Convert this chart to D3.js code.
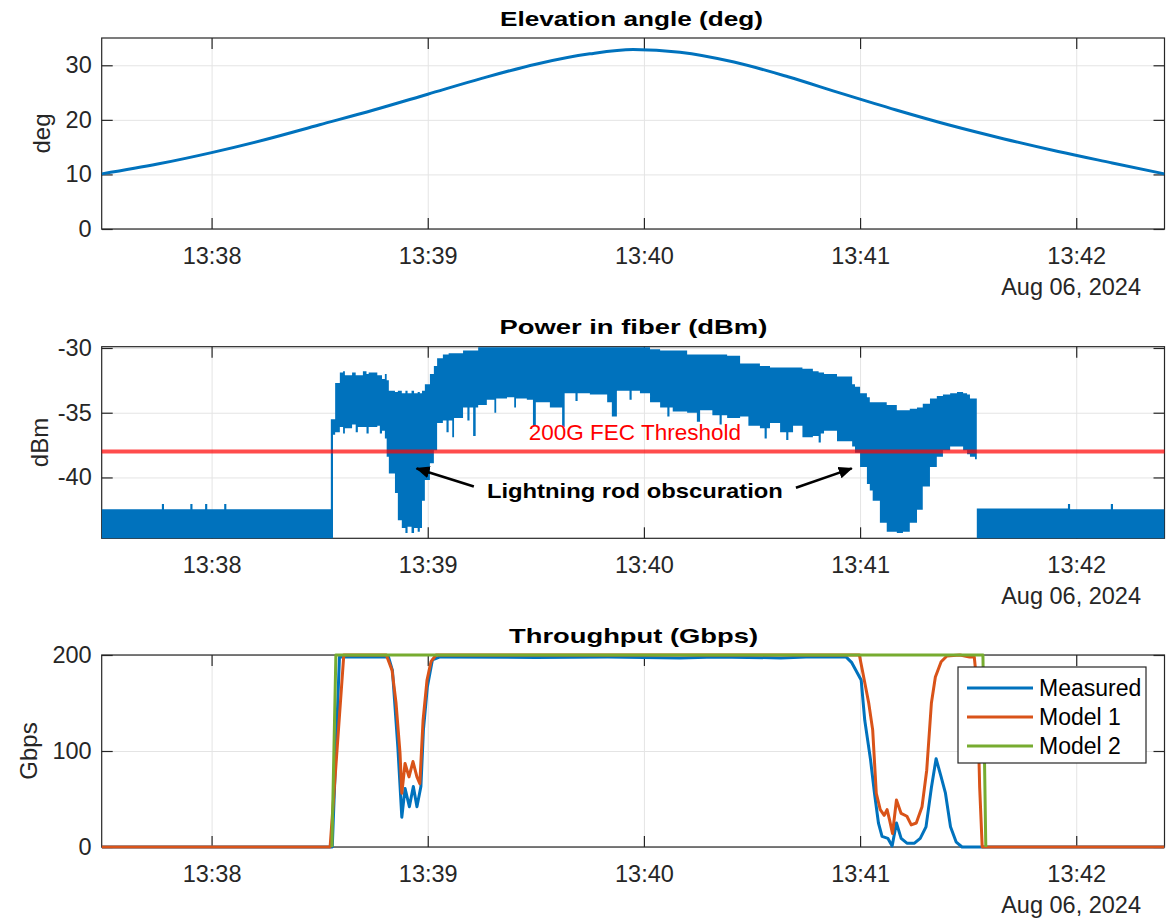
<!DOCTYPE html>
<html>
<head>
<meta charset="utf-8">
<script src="https://cdn.jsdelivr.net/npm/d3@7"></script>
<style>
  body { margin: 0; background: #fff; }
  svg { font-family: "Liberation Sans", Arial, Helvetica, sans-serif; }
</style>
</head>
<body>
<script>
// all times are seconds after 13:37:00 on Aug 06, 2024

//elevation angle (deg)
const elevT = [29.5, 45, 60, 75, 90, 105, 120, 135, 150, 165, 177, 190, 205, 220, 235, 250, 265, 280, 295, 310, 324.5]
const elevV = [10.1, 11.9, 14.0, 16.4, 19.1, 21.8, 24.7, 27.6, 30.2, 32.1, 32.9, 32.4, 30.6, 27.9, 24.8, 21.8, 19.0, 16.5, 14.2, 12.1, 10.1]

//power in fiber: upper and lower edge of the noisy trace (dBm)
const powerT = [29.5, 46.2, 46.8, 54.1, 54.7, 58.2, 58.8, 63.5, 64.1, 93.1,
  93.7, 94.3, 95.6, 96.5, 97, 99, 100, 100.6, 102, 103,
  103.6, 106, 106.7, 107.3, 108.1, 108.6, 109.2, 110.9, 111.7, 112.8,
  113.8, 114.4, 115.5, 116.2, 117.2, 117.8, 118.4, 119.2, 120.6, 121.7,
  122.6, 124.2, 125.2, 125.8, 126.8, 127.3, 129.8, 131, 131.6, 132.6,
  133.3, 134, 136.4, 138.5, 139, 142, 144, 144.5, 147.5, 149.2,
  150, 153.9, 157.3, 158, 161, 161.6, 165, 169.8, 171.1, 172.5,
  176, 176.6, 178.9, 181.7, 184.5, 186.5, 187.1, 188, 192, 194.7,
  195.6, 199, 201, 201.6, 203.1, 206.7, 209, 212.2, 213.5, 214.1,
  215, 217.8, 219.5, 220.1, 221.4, 224, 226.9, 228.5, 229.1, 230,
  233.6, 237.8, 238.6, 240, 241.9, 242.7, 243.5, 245.5, 247.4, 250.2,
  251.9, 253.8, 255.8, 257.4, 259.4, 261.3, 263, 265, 266.9, 268.6,
  269.7, 270.5, 271.9, 272.4, 297.7, 298.3, 309.6, 310.2, 324.5]
const powerHi = [-42.45, -42.05, -42.45, -42.05, -42.45, -42.05, -42.45, -42.05, -42.45, -35.5,
  -35.5, -32.7, -31.9, -31.8, -32.1, -31.9, -32.1, -32.1, -31.8, -32.0,
  -31.9, -32.1, -32.1, -32.4, -32.0, -32.5, -33.3, -33.4, -33.3, -33.5,
  -33.3, -33.5, -33.3, -33.5, -33.4, -33.5, -33.3, -32.8, -32.0, -31.4,
  -30.8, -30.5, -30.5, -30.4, -30.4, -30.4, -30.2, -30.2, -30.2, -30.2,
  -30.2, -29.95, -29.95, -29.95, -29.95, -29.95, -29.95, -29.95, -29.95, -29.95,
  -29.95, -29.95, -29.95, -29.95, -29.95, -29.95, -29.95, -29.95, -29.95, -29.95,
  -29.95, -29.95, -29.95, -30.1, -30.2, -30.2, -30.2, -30.2, -30.5, -30.5,
  -30.5, -30.5, -30.5, -30.5, -30.6, -31.2, -31.2, -31.4, -31.4, -31.4,
  -31.5, -31.5, -31.5, -31.5, -31.5, -31.6, -31.8, -31.9, -31.9, -32.0,
  -32.2, -32.8, -33.0, -33.5, -33.8, -34.2, -34.2, -34.2, -34.4, -34.8,
  -34.8, -34.7, -34.6, -34.3, -33.9, -33.7, -33.6, -33.5, -33.4, -33.5,
  -33.6, -33.9, -33.9, -42.4, -42.05, -42.45, -42.05, -42.45, -42.45]
const powerLo = [-44.8, -44.8, -44.8, -44.8, -44.8, -44.8, -44.8, -44.8, -44.8, -44.8,
  -36.7, -36.5, -36.1, -36.6, -36.2, -35.9, -36.5, -36.1, -36.1, -36.6,
  -36.1, -36.0, -36.6, -36.4, -37.0, -38.4, -39.7, -41.2, -43.3, -43.9,
  -44.3, -43.8, -44.3, -43.9, -44.2, -43.9, -41.8, -40.2, -38.9, -37.9,
  -35.8, -35.6, -36.5, -35.6, -36.9, -35.4, -34.6, -35.6, -34.6, -36.8,
  -34.6, -34.4, -34.0, -35.0, -33.9, -33.8, -34.6, -33.9, -34.0, -36.0,
  -34.2, -34.6, -36.1, -33.5, -34.1, -33.5, -33.6, -34.2, -35.3, -33.3,
  -34.0, -33.3, -33.5, -34.2, -34.6, -35.3, -34.6, -34.9, -35.0, -35.7,
  -34.8, -35.2, -35.9, -35.2, -35.4, -35.3, -36.0, -36.2, -37.0, -36.2,
  -35.8, -36.5, -37.1, -36.5, -36.0, -36.9, -36.8, -37.3, -36.6, -36.4,
  -37.2, -37.6, -38.1, -39.2, -40.5, -41.0, -41.8, -43.5, -44.2, -44.3,
  -44.2, -43.5, -42.5, -40.7, -39.2, -38.4, -37.9, -37.6, -37.6, -37.9,
  -38.2, -38.4, -38.6, -44.8, -44.8, -44.8, -44.8, -44.8, -44.8]
const threshold = -38
const thresholdLabel = '200G FEC Threshold'
const noteLabel = 'Lightning rod obscuration'

//throughput (Gbps)
const measT = [29.5, 93.5, 95.5, 100, 109.1, 110.2, 111.7, 112.8, 113.7, 114.9, 116.0, 117.0, 118.1, 118.8, 119.9, 121.3, 123.4, 150, 170, 190, 200, 218, 225, 236.1, 237.7, 240.3, 241.3, 242.9, 244.0, 245.1, 246.1, 247.7, 248.9, 250.1, 251.4, 253.0, 255.1, 256.7, 258.3, 259.8, 261.1, 262.5, 263.7, 265.1, 266.7, 268.3, 324.5]
const measV = [0, 0, 198, 198, 198, 184, 104, 31, 61, 42, 63, 42, 63, 122, 167, 195, 198, 197.5, 198, 197, 198, 197, 198, 198, 192, 174, 132, 91, 56, 25, 11, 9, 1, 25, 9, 4, 4, 9, 21, 62, 92, 73, 56, 21, 5, 0, 0]
const m1T = [29.5, 92.9, 96.7, 108.5, 110.1, 111.2, 112.3, 112.8, 113.7, 114.8, 115.9, 117.0, 117.8, 118.7, 119.8, 120.9, 122.3, 239.8, 240.8, 242.4, 243.5, 244.5, 245.6, 246.7, 247.5, 248.2, 249.0, 250.1, 251.4, 253.0, 254.2, 255.6, 257.2, 258.5, 259.8, 260.9, 262.5, 264.1, 267.7, 270.4, 271.7, 272.5, 273.2, 273.9, 324.5]
const m1V = [0, 0, 200, 200, 184, 150, 98, 56, 87, 73, 89, 73, 66, 132, 174, 193, 200, 200, 181, 150, 122, 56, 39, 33, 39, 28, 14, 49, 35, 32, 23, 25, 42, 80, 150, 177, 193, 199, 200, 198, 198, 167, 62, 0, 0]
const m2T = [93.4, 94.5, 274.1, 274.9]
const m2V = [0, 200, 200, 0]
const seriesNames = ['Measured', 'Model 1', 'Model 2']
const seriesColors = ['#0072BD', '#D95319', '#77AC30']

//axis ticks
const xTickLabels = ['13:38', '13:39', '13:40', '13:41', '13:42']
const dateLabel = 'Aug 06, 2024'

const base = new Date(2024, 7, 6, 13, 37, 0)
const toDate = s => new Date(base.getTime() + s * 1000)
const parseTick = d3.timeParse('%Y-%m-%d %H:%M')
const xTickVals = xTickLabels.map(s => parseTick('2024-08-06 ' + s))

const svg = d3.select('body').append('svg')
  .attr('width', 1176)
  .attr('height', 919)

const defs = svg.append('defs')
defs.append('marker')
  .attr('id', 'head')
  .attr('markerUnits', 'userSpaceOnUse')
  .attr('viewBox', '0 0 14 12')
  .attr('refX', 13).attr('refY', 6)
  .attr('markerWidth', 14).attr('markerHeight', 12)
  .attr('orient', 'auto')
  .append('path').attr('d', 'M0,0 L14,6 L0,12 Z').attr('fill', '#000')

const xL = 101.7, xR = 1164.5
const x = d3.scaleTime().domain([toDate(29.5), toDate(324.5)]).range([xL, xR])
const ink = '#262626'

//one subplot: grid, box, ticks, labels
function panel(id, top, bottom, yDom, yTicks, title, titleX, titleW, ylab, ylabX) {
  const y = d3.scaleLinear().domain(yDom).range([bottom, top])
  const g = svg.append('g')

  // grid
  g.append('g').attr('transform', `translate(0,${bottom})`)
    .call(d3.axisBottom(x).tickValues(xTickVals).tickSize(-(bottom - top)).tickFormat(''))
    .call(a => a.select('.domain').remove())
    .selectAll('line').attr('stroke', '#e4e4e4')
  g.append('g').attr('transform', `translate(${xL},0)`)
    .call(d3.axisLeft(y).tickValues(yTicks).tickSize(-(xR - xL)).tickFormat(''))
    .call(a => a.select('.domain').remove())
    .selectAll('line').attr('stroke', '#e4e4e4')

  // box
  g.append('rect')
    .attr('x', xL).attr('y', top)
    .attr('width', xR - xL).attr('height', bottom - top)
    .attr('fill', 'none').attr('stroke', ink).attr('stroke-width', 1.2)

  // ticks (plain hyphen for negatives, like the original)
  const bx = g.append('g').attr('transform', `translate(0,${bottom})`)
    .call(d3.axisBottom(x).tickValues(xTickVals).tickSize(-11).tickPadding(18).tickFormat(d3.timeFormat('%H:%M')))
  const tx = g.append('g').attr('transform', `translate(0,${top})`)
    .call(d3.axisTop(x).tickValues(xTickVals).tickSize(-11).tickFormat(''))
  const ly = g.append('g').attr('transform', `translate(${xL},0)`)
    .call(d3.axisLeft(y).tickValues(yTicks).tickSize(-11).tickPadding(10).tickFormat(d => String(d)))
  const ry = g.append('g').attr('transform', `translate(${xR},0)`)
    .call(d3.axisRight(y).tickValues(yTicks).tickSize(-11).tickFormat(''))
  ;[bx, tx, ly, ry].forEach(a => {
    a.select('.domain').remove()
    a.attr('color', ink).attr('font-size', 23.5).attr('font-family', null)
    a.selectAll('line').attr('stroke-width', 1.2)
  })

  // date under the time axis
  g.append('text')
    .attr('x', 1141).attr('y', bottom + 66)
    .attr('text-anchor', 'end')
    .attr('font-size', 23.5).attr('fill', ink)
    .text(dateLabel)

  // title
  g.append('text')
    .attr('x', titleX).attr('y', top - 12.5)
    .attr('text-anchor', 'middle')
    .attr('font-size', 21).attr('font-weight', 'bold').attr('fill', '#000')
    .attr('textLength', titleW).attr('lengthAdjust', 'spacingAndGlyphs')
    .text(title)

  // y label
  g.append('text')
    .attr('transform', `translate(${ylabX},${(top + bottom) / 2}) rotate(-90)`)
    .attr('text-anchor', 'middle')
    .attr('font-size', 24).attr('fill', ink)
    .text(ylab)

  // clip areas
  defs.append('clipPath').attr('id', 'clip' + id)
    .append('rect').attr('x', xL).attr('y', top).attr('width', xR - xL).attr('height', bottom - top)
  defs.append('clipPath').attr('id', 'clipw' + id)
    .append('rect').attr('x', xL).attr('y', top - 3).attr('width', xR - xL).attr('height', bottom - top + 6)

  return y
}

//elevation
const y1 = panel(1, 38, 229, [0, 35], [0, 10, 20, 30], 'Elevation angle (deg)', 631.5, 263, 'deg', 50)
svg.append('path')
  .datum(elevT.map((t, i) => [toDate(t), elevV[i]]))
  .attr('clip-path', 'url(#clipw1)')
  .attr('fill', 'none')
  .attr('stroke', '#0072BD')
  .attr('stroke-width', 3)
  .attr('d', d3.line().x(d => x(d[0])).y(d => y1(d[1])).curve(d3.curveMonotoneX))

//power in fiber
const y2 = panel(2, 346.7, 538.3, [-44.7, -29.9], [-40, -35, -30], 'Power in fiber (dBm)', 633.4, 268, 'dBm', 48)
svg.append('path')
  .datum(powerT.map((t, i) => [toDate(t), powerHi[i], powerLo[i]]))
  .attr('clip-path', 'url(#clip2)')
  .attr('fill', '#0072BD')
  .attr('d', d3.area().x(d => x(d[0])).y0(d => y2(d[2])).y1(d => y2(d[1])).curve(d3.curveStepAfter))

svg.append('line')
  .attr('x1', xL).attr('x2', xR)
  .attr('y1', y2(threshold)).attr('y2', y2(threshold))
  .attr('stroke', '#ff0000').attr('stroke-opacity', 0.7).attr('stroke-width', 4)

svg.append('text')
  .attr('x', x(toDate(177.5))).attr('y', y2(-37.1))
  .attr('text-anchor', 'middle')
  .attr('font-size', 22.5).attr('fill', '#ff0000')
  .text(thresholdLabel)

svg.append('text')
  .attr('x', x(toDate(177.5))).attr('y', y2(-41.55))
  .attr('text-anchor', 'middle')
  .attr('font-size', 21).attr('font-weight', 'bold').attr('fill', '#000')
  .attr('textLength', 296).attr('lengthAdjust', 'spacingAndGlyphs')
  .text(noteLabel)

//arrows: [tail time, tail dBm, tip time, tip dBm]
const arrows = [[132.8, -40.7, 116.9, -39.3], [222.2, -40.8, 237.7, -39.3]]
svg.selectAll('.arrow').data(arrows).enter().append('line')
  .attr('x1', d => x(toDate(d[0]))).attr('y1', d => y2(d[1]))
  .attr('x2', d => x(toDate(d[2]))).attr('y2', d => y2(d[3]))
  .attr('stroke', '#000').attr('stroke-width', 2.6)
  .attr('marker-end', 'url(#head)')

//throughput
const y3 = panel(3, 655, 847, [0, 200], [0, 100, 200], 'Throughput (Gbps)', 633.5, 249, 'Gbps', 37)
const thr = [[measT, measV], [m1T, m1V], [m2T, m2V]]
const line3 = d3.line().x(d => x(d[0])).y(d => y3(d[1]))
thr.forEach((s, k) => {
  svg.append('path')
    .datum(s[0].map((t, i) => [toDate(t), s[1][i]]))
    .attr('clip-path', 'url(#clipw3)')
    .attr('fill', 'none')
    .attr('stroke', seriesColors[k])
    .attr('stroke-width', 3)
    .attr('stroke-linejoin', 'round')
    .attr('d', line3)
})

//legend
const leg = svg.append('g')
leg.append('rect')
  .attr('x', 958).attr('y', 667).attr('width', 188).attr('height', 96)
  .attr('fill', '#fff').attr('stroke', ink).attr('stroke-width', 1.2)
seriesNames.forEach((name, k) => {
  const ly = 688 + k * 29
  leg.append('line')
    .attr('x1', 967).attr('x2', 1033).attr('y1', ly).attr('y2', ly)
    .attr('stroke', seriesColors[k]).attr('stroke-width', 3)
  leg.append('text')
    .attr('x', 1039).attr('y', ly + 8)
    .attr('font-size', 23).attr('fill', '#000')
    .text(name)
})
</script>
</body>
</html>
